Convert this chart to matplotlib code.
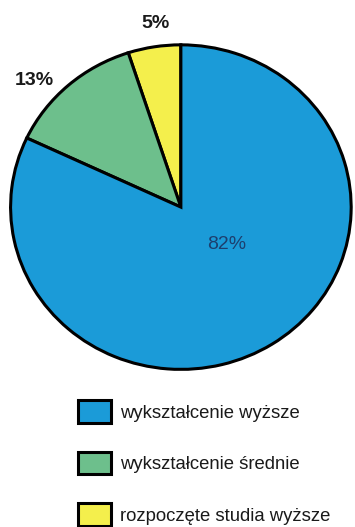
import matplotlib
matplotlib.use("Agg")
import matplotlib.pyplot as plt
from matplotlib.patches import Patch

# education structure, shares in percent
labels = ["wykształcenie wyższe", "wykształcenie średnie", "rozpoczęte studia wyższe"]
shares = [82, 13, 5]
colors = ["#1b9bd8", "#6dbf8c", "#f4ef4c"]

plt.rcParams["font.family"] = ["Liberation Sans", "DejaVu Sans"]

fig = plt.figure(figsize=(3.55, 5.27), dpi=100)
ax = fig.add_axes([0.025, 0.296, 0.969, 0.622])

# yellow and green go counter-clockwise from 12 o'clock, blue takes the rest
order = [2, 1, 0]
wedges, _ = ax.pie([shares[i] for i in order], colors=[colors[i] for i in order],
                   startangle=90, counterclock=True,
                   wedgeprops=dict(edgecolor="black", linewidth=2.2))
ax.set_aspect("auto")
ax.set_xlim(-1.01, 1.01)
ax.set_ylim(-1.01, 1.01)

ax.text(-0.15, 1.13, f"{shares[2]}%", ha="center", va="center", fontsize=14, weight="bold", color="#1a1a1a")
ax.text(-0.86, 0.78, f"{shares[1]}%", ha="center", va="center", fontsize=14, weight="bold", color="#1a1a1a")
ax.text(0.27, -0.23, f"{shares[0]}%", ha="center", va="center", fontsize=14, color="#1d3f6e")

handles = [Patch(facecolor=c, edgecolor="black", linewidth=2.2) for c in colors]
fig.legend(handles=handles, labels=labels, loc="upper left", bbox_to_anchor=(0.195, 0.258),
           frameon=False, fontsize=13.3, handlelength=1.74, handleheight=1.52,
           handletextpad=0.5, labelspacing=1.55, borderpad=0, labelcolor="#1a1a1a")

fig.savefig("out.png", dpi=100)
